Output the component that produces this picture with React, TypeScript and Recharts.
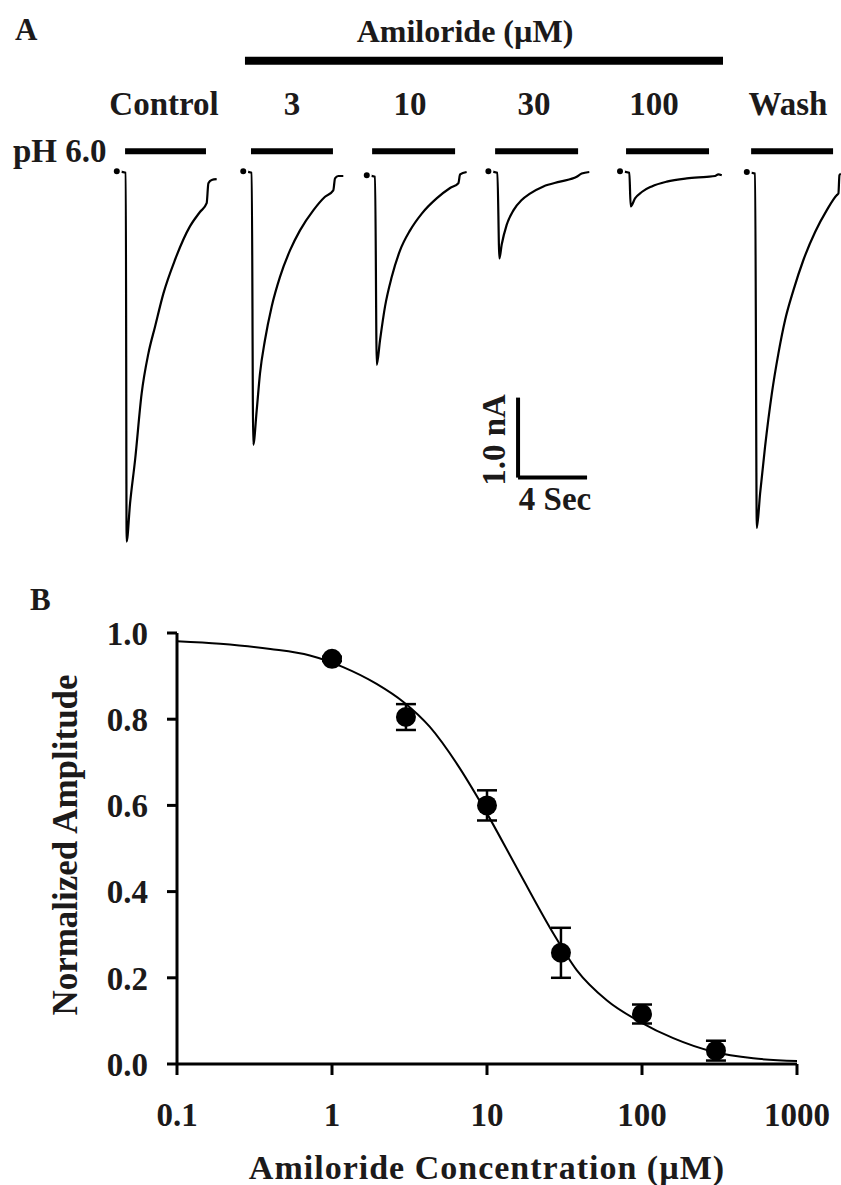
import React from "react";
import {
  LineChart,
  ComposedChart,
  Line,
  Scatter,
  ErrorBar,
  XAxis,
  YAxis,
  ReferenceLine,
} from "recharts";

// ---- Panel A: current traces (time in s on the record, current in nA) ----
const controlTime = [6.77, 7.29, 7.34, 7.54, 7.83, 8.21, 8.6, 8.99, 9.47, 10.14, 11.01, 11.59, 11.98, 12.08, 12.27, 12.56];
const controlCurrent = [0.01, -0.01, -4.62, -4.14, -3.6, -2.77, -2.27, -1.93, -1.52, -1.1, -0.68, -0.5, -0.39, -0.14, -0.1, -0.09];

const ami3Time = [14.1, 14.59, 14.68, 14.88, 15.07, 15.36, 15.75, 16.23, 16.81, 17.39, 18.16, 18.84, 19.32, 19.42, 19.61, 19.9];
const ami3Current = [0.01, -0.01, -3.41, -2.98, -2.52, -2.1, -1.68, -1.31, -0.98, -0.73, -0.48, -0.31, -0.23, -0.08, -0.05, -0.05];

const ami10Time = [21.26, 21.74, 21.84, 22.03, 22.32, 22.71, 23.19, 23.77, 24.45, 25.31, 26.09, 26.57, 26.67, 27.05];
const ami10Current = [-0.04, -0.06, -2.41, -2.1, -1.68, -1.31, -0.98, -0.73, -0.52, -0.33, -0.2, -0.14, -0.03, 0];

const ami30Time = [28.31, 28.83, 28.95, 29.08, 29.37, 29.76, 30.24, 30.72, 31.5, 32.46, 33.43, 33.72, 34.16];
const ami30Current = [0.01, -0.01, -1.08, -0.91, -0.66, -0.48, -0.35, -0.27, -0.18, -0.12, -0.06, -0.02, 0];

const ami100Time = [35.94, 36.48, 36.56, 36.81, 37.2, 37.78, 38.65, 39.81, 40.97, 41.45, 41.64, 41.84];
const ami100Current = [0.01, -0.01, -0.43, -0.33, -0.25, -0.18, -0.12, -0.08, -0.06, -0.05, -0.03, -0.04];

const washTime = [43.29, 43.77, 43.87, 44.06, 44.35, 44.74, 45.12, 45.51, 45.99, 46.57, 47.25, 47.92, 48.5, 48.6, 48.66, 48.74];
const washCurrent = [0, -0.02, -4.45, -4.02, -3.43, -2.77, -2.27, -1.85, -1.48, -1.1, -0.75, -0.48, -0.29, -0.27, -0.04, -0.02];

const conditions = ["Control", "3", "10", "30", "100", "Wash"];
const phStart = [7.25, 14.55, 21.57, 28.7, 36.29, 43.54];
const phEnd = [11.94, 19.3, 26.38, 33.51, 41.1, 48.29];
const amilorideSpan = [14.2, 41.91];
const scaleBarCurrent = 1.0; // nA
const scaleBarTime = 4; // s

// ---- Panel B: dose response ----
const pointConc = [1, 3, 10, 30, 100, 300];
const pointAmp = [0.94, 0.805, 0.6, 0.258, 0.116, 0.031];
const pointErr = [0.005, 0.03, 0.035, 0.058, 0.022, 0.023];

const fitConc = [0.1, 0.19, 0.4, 0.72, 1.18, 1.94, 2.89, 4.28, 6.38, 9.47, 16.3, 26.8, 37.9, 59.2, 97, 159, 288, 522, 1000];
const fitAmp = [0.981, 0.975, 0.963, 0.948, 0.921, 0.882, 0.84, 0.782, 0.697, 0.596, 0.442, 0.303, 0.218, 0.148, 0.098, 0.06, 0.0285, 0.0132, 0.007];

const concTicks = [0.1, 1, 10, 100, 1000];
const ampTicks = [0, 0.2, 0.4, 0.6, 0.8, 1.0];

const FONT = '"Liberation Serif", "Times New Roman", serif';
const INK = "#000";
const TEXT = "#1c1a1a";

const traces = [
  { name: "control", t: controlTime, i: controlCurrent },
  { name: "a3", t: ami3Time, i: ami3Current },
  { name: "a10", t: ami10Time, i: ami10Current },
  { name: "a30", t: ami30Time, i: ami30Current },
  { name: "a100", t: ami100Time, i: ami100Current },
  { name: "wash", t: washTime, i: washCurrent },
];

const traceRows = (t: number[], i: number[]) => t.map((v, k) => ({ t: v, i: i[k] }));

const fitRows = fitConc.map((c, k) => ({ conc: c, amp: fitAmp[k] }));
const pointRows = pointConc.map((c, k) => ({ conc: c, amp: pointAmp[k], err: pointErr[k] }));

// bar levels above baseline (nA) and scale bar anchor
const PH_LEVEL = 0.26;
const AMI_LEVEL = 1.39;
const SCALE_X = 30.03;
const SCALE_Y = -3.82;

const CurrentTraces = () => (
  <LineChart width={841} height={560} margin={{ top: 0, right: 0, bottom: 0, left: 0 }}>
    <XAxis type="number" dataKey="t" domain={[0, 48.75]} hide allowDataOverflow />
    <YAxis type="number" domain={[-4.85, 2.15]} hide allowDataOverflow />
    {traces.map((tr) => (
      <Line
        key={tr.name}
        data={traceRows(tr.t, tr.i)}
        dataKey="i"
        type="monotone"
        stroke={INK}
        strokeWidth={2.2}
        strokeLinejoin="round"
        dot={false}
        isAnimationActive={false}
      />
    ))}
    {phStart.map((s, k) => (
      <ReferenceLine
        key={"ph" + k}
        segment={[
          { x: s, y: PH_LEVEL },
          { x: phEnd[k], y: PH_LEVEL },
        ]}
        stroke={INK}
        strokeWidth={6}
        ifOverflow="visible"
      />
    ))}
    <ReferenceLine
      segment={[
        { x: amilorideSpan[0], y: AMI_LEVEL },
        { x: amilorideSpan[1], y: AMI_LEVEL },
      ]}
      stroke={INK}
      strokeWidth={8}
      ifOverflow="visible"
    />
    {/* scale bar */}
    <ReferenceLine
      segment={[
        { x: SCALE_X, y: SCALE_Y },
        { x: SCALE_X, y: SCALE_Y + scaleBarCurrent },
      ]}
      stroke={INK}
      strokeWidth={4}
      ifOverflow="visible"
    />
    <ReferenceLine
      segment={[
        { x: SCALE_X, y: SCALE_Y },
        { x: SCALE_X + scaleBarTime, y: SCALE_Y },
      ]}
      stroke={INK}
      strokeWidth={4}
      ifOverflow="visible"
    />
  </LineChart>
);

const Marker = (props: any) => <circle cx={props.cx} cy={props.cy} r={10} fill={INK} />;

const tickStyle = { fontSize: 33, fontFamily: FONT, fontWeight: "bold", fill: TEXT };

const DoseResponse = () => (
  <ComposedChart width={841} height={605} margin={{ top: 53, right: 44, bottom: 0, left: 0 }}>
    <XAxis
      type="number"
      dataKey="conc"
      scale="log"
      domain={[0.1, 1000]}
      ticks={concTicks}
      allowDataOverflow
      height={121}
      tickSize={11}
      tickMargin={28}
      tick={tickStyle}
      tickFormatter={(v) => String(v)}
      axisLine={{ stroke: INK, strokeWidth: 3 }}
      tickLine={{ stroke: INK, strokeWidth: 3 }}
    />
    <YAxis
      type="number"
      dataKey="amp"
      domain={[0, 1]}
      ticks={ampTicks}
      width={177}
      tickSize={10}
      tickMargin={19}
      tick={tickStyle}
      tickFormatter={(v) => Number(v).toFixed(1)}
      axisLine={{ stroke: INK, strokeWidth: 3 }}
      tickLine={{ stroke: INK, strokeWidth: 3 }}
    />
    <Line
      data={fitRows}
      dataKey="amp"
      type="monotone"
      stroke={INK}
      strokeWidth={2}
      dot={false}
      isAnimationActive={false}
    />
    <Scatter data={pointRows} dataKey="amp" shape={Marker} isAnimationActive={false}>
      <ErrorBar dataKey="err" direction="y" width={10} strokeWidth={2.5} stroke={INK} />
    </Scatter>
  </ComposedChart>
);

const txt = { fontFamily: FONT, fontWeight: "bold" as const, fill: TEXT };

export default function App() {
  return (
    <div style={{ position: "absolute", left: 0, top: 0, width: 841, height: 1185, background: "#fff", overflow: "hidden" }}>
      <div style={{ position: "absolute", left: 0, top: 0 }}>
        <CurrentTraces />
      </div>
      <div style={{ position: "absolute", left: 0, top: 580 }}>
        <DoseResponse />
      </div>
      <svg width={841} height={1185} style={{ position: "absolute", left: 0, top: 0, pointerEvents: "none" }}>
        <text x={15} y={40} fontSize={31} {...txt}>A</text>
        <text x={465} y={42} fontSize={32} textAnchor="middle" {...txt}>Amiloride (µM)</text>
        {conditions.map((c, k) => (
          <text key={c} x={[164, 292, 410, 534, 654, 788][k]} y={115} fontSize={33} textAnchor="middle" {...txt}>
            {c}
          </text>
        ))}
        <text x={13} y={162} fontSize={33} {...txt}>pH 6.0</text>
        <text x={505} y={440} fontSize={33} textAnchor="middle" transform="rotate(-90, 505, 440)" {...txt}>1.0 nA</text>
        <text x={555} y={510} fontSize={33} textAnchor="middle" {...txt}>4 Sec</text>
        <text x={30} y={610} fontSize={31} {...txt}>B</text>
        <text x={77} y={845} fontSize={35} textAnchor="middle" transform="rotate(-90, 77, 845)" {...txt}>Normalized Amplitude</text>
        <text x={487} y={1179} fontSize={34} letterSpacing={1} textAnchor="middle" {...txt}>Amiloride Concentration (µM)</text>
      </svg>
    </div>
  );
}
